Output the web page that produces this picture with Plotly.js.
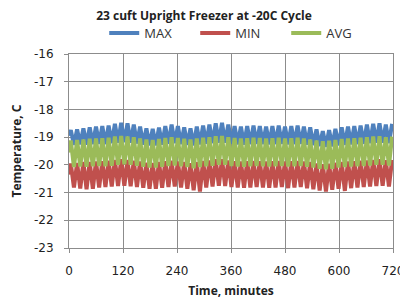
<!DOCTYPE html>
<html>
<head>
<meta charset="utf-8">
<script src="https://cdn.plot.ly/plotly-3.0.1.min.js"></script>
<style>html,body{margin:0;padding:0;background:#fff;}#chart{width:400px;height:299px;}</style>
</head>
<body>
<div id="chart"></div>
<script>
const timeMin = [0,4,11,18,25,32,39,46,53,60,67,74,81,88,95,102,109,116,123,130,137,144,151,158,165,172,179,186,193,200,207,214,221,228,235,242,249,256,263,270,277,284,291,298,305,312,319,326,333,340,347,354,361,368,375,382,389,396,403,410,417,424,431,438,445,452,459,466,473,480,487,494,501,508,515,522,529,536,543,550,557,564,571,578,585,592,599,606,613,620,627,634,641,648,655,662,669,676,683,690,697,704,711,718];

const maxTemp = [-18.95,
-18.75,-19.28,-18.72,-19.26,-18.68,-19.27,-18.65,-19.25,-18.62,-19.24,
-18.6,-19.25,-18.58,-19.22,-18.52,-19.2,-18.48,-19.18,-18.5,-19.2,
-18.55,-19.23,-18.62,-19.27,-18.68,-19.3,-18.7,-19.3,-18.66,-19.27,
-18.6,-19.24,-18.55,-19.22,-18.6,-19.25,-18.65,-19.28,-18.68,-19.3,
-18.62,-19.26,-18.58,-19.24,-18.55,-19.22,-18.5,-19.2,-18.48,-19.2,
-18.55,-19.24,-18.6,-19.26,-18.62,-19.27,-18.6,-19.25,-18.58,-19.24,
-18.6,-19.25,-18.62,-19.26,-18.6,-19.25,-18.58,-19.24,-18.62,-19.26,
-18.6,-19.25,-18.58,-19.24,-18.62,-19.27,-18.65,-19.29,-18.72,-19.32,
-18.78,-19.35,-18.75,-19.33,-18.7,-19.3,-18.65,-19.28,-18.62,-19.26,
-18.6,-19.25,-18.58,-19.24,-18.55,-19.22,-18.52,-19.2,-18.5,-19.2,
-18.55,-19.22,-18.52];

const minTemp = [-20.35,
-19.95,-20.82,-19.93,-20.85,-19.9,-20.88,-19.9,-20.86,-19.88,-20.82,
-19.87,-20.8,-19.85,-20.78,-19.82,-20.76,-19.8,-20.75,-19.82,-20.77,
-19.85,-20.8,-19.88,-20.83,-19.92,-20.86,-19.93,-20.86,-19.9,-20.83,
-19.87,-20.8,-19.85,-20.78,-19.88,-20.82,-19.9,-20.86,-19.94,-20.92,
-19.9,-20.96,-19.86,-20.82,-19.84,-20.78,-19.8,-20.75,-19.8,-20.76,
-19.84,-20.8,-19.87,-20.82,-19.88,-20.83,-19.87,-20.82,-19.86,-20.8,
-19.87,-20.82,-19.88,-20.83,-19.87,-20.82,-19.86,-20.8,-19.88,-20.84,
-19.87,-20.82,-19.86,-20.8,-19.88,-20.84,-19.9,-20.88,-19.95,-20.93,
-19.98,-20.96,-19.96,-20.9,-19.92,-20.86,-19.9,-20.94,-19.88,-20.84,
-19.87,-20.82,-19.85,-20.8,-19.84,-20.78,-19.82,-20.76,-19.8,-20.75,
-19.83,-20.78,-19.82];

const avgTemp = [-19.55,
-19.12,-20.08,-19.1,-20.06,-19.08,-20.07,-19.06,-20.05,-19.05,-20.04,
-19.04,-20.05,-19.02,-20.03,-18.98,-20.0,-18.96,-19.98,-18.98,-20.0,
-19.0,-20.03,-19.05,-20.07,-19.08,-20.1,-19.1,-20.1,-19.07,-20.07,
-19.03,-20.04,-19.0,-20.02,-19.03,-20.05,-19.06,-20.08,-19.08,-20.12,
-19.05,-20.08,-19.02,-20.05,-19.0,-20.03,-18.97,-20.0,-18.96,-20.0,
-19.0,-20.04,-19.03,-20.06,-19.05,-20.07,-19.04,-20.05,-19.02,-20.04,
-19.03,-20.05,-19.05,-20.06,-19.04,-20.05,-19.02,-20.04,-19.05,-20.06,
-19.04,-20.05,-19.02,-20.04,-19.05,-20.07,-19.08,-20.1,-19.12,-20.14,
-19.15,-20.16,-19.13,-20.14,-19.1,-20.1,-19.07,-20.08,-19.05,-20.06,
-19.04,-20.05,-19.02,-20.04,-19.0,-20.02,-18.98,-20.0,-18.97,-20.0,
-19.0,-20.02,-18.98];

const xTicks = [0,120,240,360,480,600,720];
const yTicks = [-16,-17,-18,-19,-20,-21,-22,-23];

const traces = [
  {x: timeMin, y: maxTemp, name: 'MAX', type: 'scatter', mode: 'lines', line: {color: '#4F81BD', width: 4}},
  {x: timeMin, y: minTemp, name: 'MIN', type: 'scatter', mode: 'lines', line: {color: '#C0504D', width: 4}},
  {x: timeMin, y: avgTemp, name: 'AVG', type: 'scatter', mode: 'lines', line: {color: '#9BBB59', width: 4}}
];

const layout = {
  width: 400, height: 299,
  margin: {l: 69, r: 7, t: 54, b: 51},
  paper_bgcolor: '#ffffff', plot_bgcolor: '#ffffff',
  title: {text: '<b>23 cuft Upright Freezer at -20C Cycle</b>', font: {family: 'Open Sans, sans-serif', size: 12, color: '#222'}, x: 0.51, xanchor: 'center', y: 1 - 16/299, yanchor: 'middle', xref: 'container', yref: 'container'},
  showlegend: true,
  legend: {orientation: 'h', x: 0.53, xanchor: 'center', y: 1.108, yanchor: 'middle', font: {family: 'Open Sans, sans-serif', size: 13, color: '#333'}, bgcolor: 'rgba(0,0,0,0)', itemwidth: 30, entrywidth: 46, entrywidthmode: 'pixels', tracegroupgap: 0},
  xaxis: {
    range: [-0.01, 720.01], tickvals: xTicks, ticktext: xTicks.map(String),
    showgrid: true, gridcolor: '#8c8c8c', gridwidth: 1,
    showline: true, linecolor: '#8c8c8c', linewidth: 1, mirror: true,
    ticks: 'outside', ticklen: 4, tickcolor: '#8c8c8c',
    ticklabelstandoff: 8, ticklabeloverflow: 'allow',
    zeroline: false,
    tickfont: {family: 'DejaVu Sans, sans-serif', size: 12, color: '#222'},
    title: {text: '<b>Time, minutes</b>', font: {family: 'Open Sans, sans-serif', size: 12, color: '#222'}, standoff: 12}
  },
  yaxis: {
    range: [-23, -16], tickvals: yTicks, ticktext: yTicks.map(String),
    showgrid: true, gridcolor: '#8c8c8c', gridwidth: 1,
    showline: true, linecolor: '#8c8c8c', linewidth: 1, mirror: true,
    ticks: 'outside', ticklen: 4, tickcolor: '#8c8c8c',
    ticklabelstandoff: 8,
    zeroline: false,
    tickfont: {family: 'DejaVu Sans, sans-serif', size: 12, color: '#222'},
    title: {text: '<b>Temperature, C</b>', font: {family: 'Open Sans, sans-serif', size: 12, color: '#222'}, standoff: 9}
  }
};

Plotly.newPlot('chart', traces, layout, {displayModeBar: false, staticPlot: true});
</script>
</body>
</html>
